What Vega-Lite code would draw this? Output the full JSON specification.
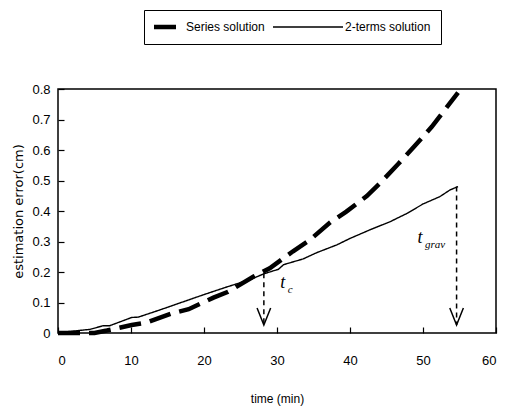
{
  "$schema": "https://vega.github.io/schema/vega-lite/v6.json",
  "width": 438,
  "height": 244,
  "autosize": "none",
  "padding": {"left": 58, "top": 89, "right": 9, "bottom": 75},
  "background": "white",
  "config": {
    "view": {"stroke": "black", "strokeWidth": 1.5},
    "axis": {
      "grid": false,
      "domain": false,
      "tickColor": "black",
      "tickWidth": 1.2,
      "tickSize": 6,
      "labelFont": "Liberation Sans",
      "labelFontSize": 13,
      "labelColor": "black",
      "labelOverlap": false,
      "titleFont": "Liberation Sans",
      "titleFontWeight": "normal",
      "titleColor": "black"
    }
  },
  "datasets": {
    "curves": [
      {"time": 0, "error": 0, "series": "Series solution"},
      {"time": 5, "error": 0, "series": "Series solution"},
      {"time": 6.7, "error": 0.008, "series": "Series solution"},
      {"time": 10.1, "error": 0.026, "series": "Series solution"},
      {"time": 12.1, "error": 0.034, "series": "Series solution"},
      {"time": 15.6, "error": 0.064, "series": "Series solution"},
      {"time": 17.9, "error": 0.078, "series": "Series solution"},
      {"time": 21.3, "error": 0.116, "series": "Series solution"},
      {"time": 23.3, "error": 0.135, "series": "Series solution"},
      {"time": 26.8, "error": 0.185, "series": "Series solution"},
      {"time": 29, "error": 0.212, "series": "Series solution"},
      {"time": 32.2, "error": 0.268, "series": "Series solution"},
      {"time": 34.5, "error": 0.305, "series": "Series solution"},
      {"time": 37.3, "error": 0.363, "series": "Series solution"},
      {"time": 39.5, "error": 0.398, "series": "Series solution"},
      {"time": 42.3, "error": 0.449, "series": "Series solution"},
      {"time": 44.1, "error": 0.491, "series": "Series solution"},
      {"time": 46.6, "error": 0.554, "series": "Series solution"},
      {"time": 48.7, "error": 0.609, "series": "Series solution"},
      {"time": 51.2, "error": 0.676, "series": "Series solution"},
      {"time": 52.8, "error": 0.726, "series": "Series solution"},
      {"time": 54.8, "error": 0.788, "series": "Series solution"},
      {"time": 0, "error": 0, "series": "2-terms solution"},
      {"time": 1.2, "error": 0.004, "series": "2-terms solution"},
      {"time": 4.4, "error": 0.012, "series": "2-terms solution"},
      {"time": 6.2, "error": 0.024, "series": "2-terms solution"},
      {"time": 7.1, "error": 0.024, "series": "2-terms solution"},
      {"time": 10.1, "error": 0.051, "series": "2-terms solution"},
      {"time": 11, "error": 0.052, "series": "2-terms solution"},
      {"time": 14, "error": 0.076, "series": "2-terms solution"},
      {"time": 17, "error": 0.101, "series": "2-terms solution"},
      {"time": 20, "error": 0.126, "series": "2-terms solution"},
      {"time": 23, "error": 0.15, "series": "2-terms solution"},
      {"time": 26.3, "error": 0.175, "series": "2-terms solution"},
      {"time": 28.2, "error": 0.194, "series": "2-terms solution"},
      {"time": 30.2, "error": 0.209, "series": "2-terms solution"},
      {"time": 30.9, "error": 0.224, "series": "2-terms solution"},
      {"time": 33.6, "error": 0.243, "series": "2-terms solution"},
      {"time": 35.4, "error": 0.263, "series": "2-terms solution"},
      {"time": 38.2, "error": 0.289, "series": "2-terms solution"},
      {"time": 40, "error": 0.31, "series": "2-terms solution"},
      {"time": 42.7, "error": 0.338, "series": "2-terms solution"},
      {"time": 45.5, "error": 0.365, "series": "2-terms solution"},
      {"time": 47.8, "error": 0.392, "series": "2-terms solution"},
      {"time": 50, "error": 0.423, "series": "2-terms solution"},
      {"time": 52.3, "error": 0.447, "series": "2-terms solution"},
      {"time": 53.7, "error": 0.469, "series": "2-terms solution"},
      {"time": 54.8, "error": 0.48, "series": "2-terms solution"}
    ],
    "markers": [
      {"time": 28.2, "from": 0.196, "to": 0.026, "labelTime": 30.8, "labelError": 0.164, "main": "t", "sub": "c"},
      {"time": 54.6, "from": 0.48, "to": 0.026, "labelTime": 49.6, "labelError": 0.31, "main": "t", "sub": "grav"}
    ]
  },
  "encoding": {
    "x": {
      "type": "quantitative",
      "scale": {"domain": [0, 60], "nice": false},
      "axis": {
        "tickCount": 6,
        "format": "d",
        "offset": -6,
        "labelPadding": 21,
        "title": "time (min)",
        "titleFontSize": 12,
        "titleX": 219,
        "titleY": 71,
        "titleBaseline": "middle"
      }
    },
    "y": {
      "type": "quantitative",
      "scale": {"domain": [0, 0.8], "nice": false},
      "axis": {
        "tickCount": 8,
        "labelExpr": "datum.value == 0 ? '0' : format(datum.value, '.1f')",
        "offset": -6,
        "labelPadding": 8,
        "title": "estimation error(cm)",
        "titleFont": "DejaVu Sans",
        "titleFontSize": 13,
        "titleAngle": -90,
        "titleX": -46,
        "titleY": 122,
        "titleAlign": "center",
        "titleBaseline": "middle"
      }
    }
  },
  "layer": [
    {
      "data": {"name": "curves"},
      "mark": {"type": "line", "color": "black", "strokeCap": "butt"},
      "encoding": {
        "x": {"field": "time", "type": "quantitative"},
        "y": {"field": "error", "type": "quantitative"},
        "detail": {"field": "series"},
        "strokeDash": {
          "field": "series",
          "type": "nominal",
          "scale": {"domain": ["Series solution", "2-terms solution"], "range": [[22, 9], [1, 0]]},
          "legend": {
            "orient": "none",
            "legendX": 86,
            "legendY": -79,
            "direction": "horizontal",
            "title": null,
            "strokeColor": "black",
            "fillColor": "white",
            "padding": 10,
            "clipHeight": 14,
            "columnPadding": 8,
            "labelFont": "Liberation Sans",
            "labelFontSize": 12,
            "labelColor": "black",
            "symbolType": "stroke",
            "symbolStrokeColor": "black",
            "encode": {
              "symbols": {
                "update": {
                  "size": {"signal": "datum.value === 'Series solution' ? 625 : 4900"},
                  "x": {"signal": "datum.value === 'Series solution' ? 12.5 : 35"},
                  "strokeDash": {"value": [1, 0]}
                }
              },
              "labels": {
                "update": {
                  "x": {"signal": "datum.value === 'Series solution' ? 32 : 72"}
                }
              }
            }
          }
        },
        "strokeWidth": {
          "field": "series",
          "type": "nominal",
          "scale": {"domain": ["Series solution", "2-terms solution"], "range": [4.5, 1.4]},
          "legend": null
        }
      }
    },
    {
      "data": {"name": "markers"},
      "mark": {"type": "rule", "color": "black", "strokeWidth": 1.5, "strokeDash": [5, 4]},
      "encoding": {
        "x": {"field": "time", "type": "quantitative"},
        "y": {"field": "from", "type": "quantitative"},
        "y2": {"field": "to"}
      }
    },
    {
      "data": {"name": "markers"},
      "mark": {
        "type": "point",
        "shape": "M-0.8,-2L0,0L0.8,-2",
        "filled": false,
        "stroke": "black",
        "strokeWidth": 1.5,
        "size": 289,
        "opacity": 1
      },
      "encoding": {
        "x": {"field": "time", "type": "quantitative"},
        "y": {"field": "to", "type": "quantitative"}
      }
    },
    {
      "data": {"name": "markers"},
      "mark": {"type": "text", "font": "Liberation Serif", "fontStyle": "italic", "fontSize": 18, "align": "center", "baseline": "middle", "color": "black"},
      "encoding": {
        "x": {"field": "labelTime", "type": "quantitative"},
        "y": {"field": "labelError", "type": "quantitative"},
        "text": {"field": "main"}
      }
    },
    {
      "data": {"name": "markers"},
      "mark": {"type": "text", "font": "Liberation Serif", "fontStyle": "italic", "fontSize": 11, "align": "left", "baseline": "middle", "dx": 5, "dy": 7, "color": "black"},
      "encoding": {
        "x": {"field": "labelTime", "type": "quantitative"},
        "y": {"field": "labelError", "type": "quantitative"},
        "text": {"field": "sub"}
      }
    }
  ]
}
